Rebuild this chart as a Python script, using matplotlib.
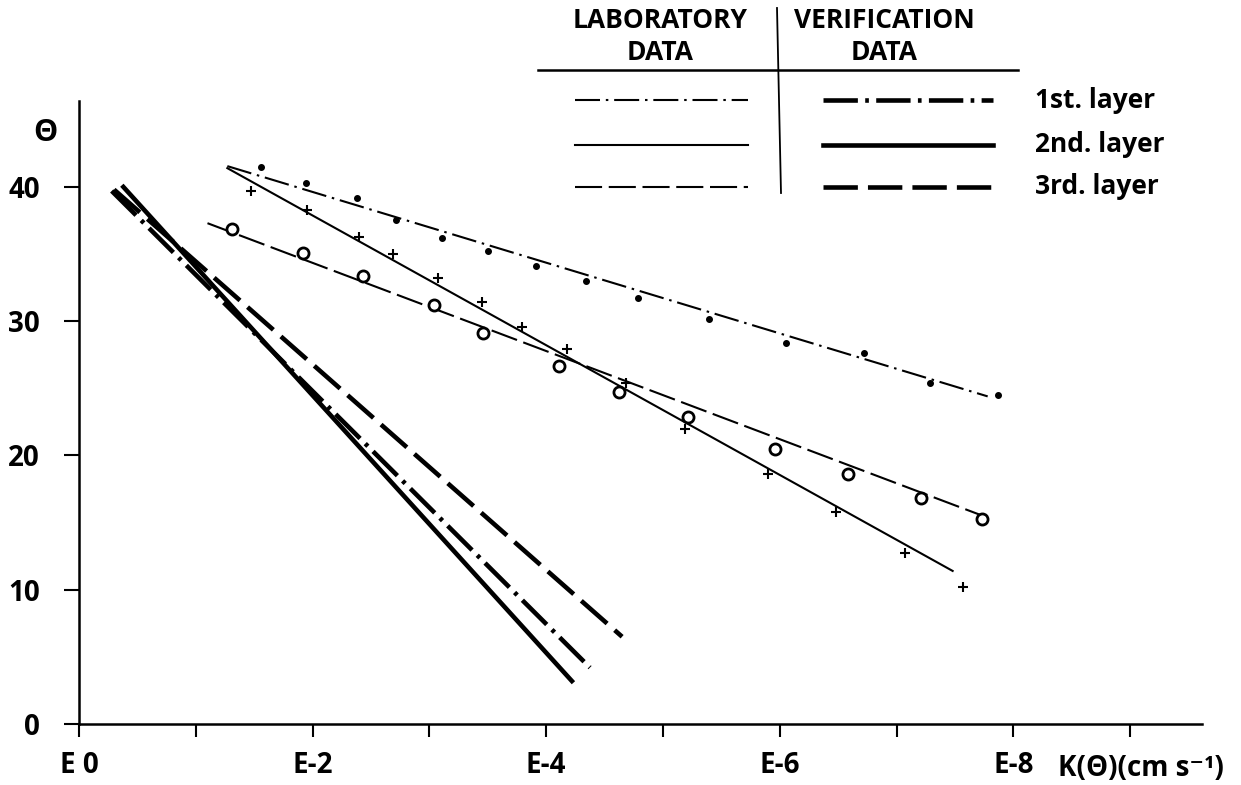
import matplotlib.pyplot as plt

plt.rcParams['font.family'] = ['Open Sans', 'DejaVu Sans']
plt.rcParams['font.weight'] = 'bold'

# x = -log10(K), so 2 means E-2
# laboratory data points
x_dots = [1.56, 1.94, 2.38, 2.71, 3.11, 3.50, 3.91, 4.34, 4.79, 5.39, 6.05, 6.72, 7.29, 7.87]
y_dots = [41.5, 40.3, 39.2, 37.5, 36.2, 35.2, 34.1, 33.0, 31.7, 30.2, 28.4, 27.6, 25.4, 24.5]
x_cross = [1.47, 1.95, 2.40, 2.69, 3.07, 3.45, 3.79, 4.18, 4.68, 5.19, 5.90, 6.48, 7.07, 7.57]
y_cross = [39.7, 38.3, 36.3, 35.0, 33.2, 31.4, 29.6, 27.9, 25.4, 22.0, 18.6, 15.8, 12.7, 10.2]
x_circ = [1.31, 1.92, 2.43, 3.04, 3.46, 4.11, 4.62, 5.21, 5.96, 6.58, 7.21, 7.73]
y_circ = [36.9, 35.1, 33.4, 31.2, 29.1, 26.7, 24.7, 22.9, 20.5, 18.6, 16.8, 15.3]

# fitted lines (start, end)
lab1_x, lab1_y = [1.27, 7.78], [41.55, 24.4]
lab2_x, lab2_y = [1.27, 7.48], [41.4, 11.4]
lab3_x, lab3_y = [1.10, 7.77], [37.3, 15.4]
ver1_x, ver1_y = [0.28, 4.375], [39.7, 4.2]
ver2_x, ver2_y = [0.38, 4.22], [40.0, 3.2]
ver3_x, ver3_y = [0.30, 4.65], [39.8, 6.5]

xtick_pos = [0, 2, 4, 6, 8]
xtick_labels = ['E 0', 'E-2', 'E-4', 'E-6', 'E-8']
ytick_pos = [0, 10, 20, 30, 40]

W, H = 1241, 785
fig = plt.figure(figsize=(W / 100, H / 100), dpi=100)
ax = fig.add_axes([79 / W, 61 / H, 1123 / W, 623 / H])

thin = 1.5
thick = 3.3
dd_thin = [12, 2.8, 1.2, 2.8]
dash_thin = [13, 3.2]
dd_thick = [7.5, 1.6, 0.8, 1.6]
dash_thick = [7.5, 2.2]

ax.plot(lab1_x, lab1_y, color='black', lw=thin, dashes=dd_thin)
ax.plot(lab2_x, lab2_y, color='black', lw=thin)
ax.plot(lab3_x, lab3_y, color='black', lw=thin, dashes=dash_thin)
ax.plot(ver1_x, ver1_y, color='black', lw=thick, dashes=dd_thick)
ax.plot(ver2_x, ver2_y, color='black', lw=thick)
ax.plot(ver3_x, ver3_y, color='black', lw=thick, dashes=dash_thick)

ax.plot(x_dots, y_dots, 'o', color='black', ms=4)
ax.plot(x_cross, y_cross, '+', color='black', ms=7, mew=1.5)
ax.plot(x_circ, y_circ, 'o', mfc='white', mec='black', ms=8, mew=2)

ax.set_xlim(0, 9.615)
ax.set_ylim(0, 46.4)
for s in ['top', 'right']:
    ax.spines[s].set_visible(False)
for s in ['left', 'bottom']:
    ax.spines[s].set_linewidth(1.8)

ax.set_xticks(range(0, 10))
ax.set_xticklabels([xtick_labels[xtick_pos.index(i)] if i in xtick_pos else '' for i in range(10)])
ax.set_yticks(ytick_pos)
ax.set_yticklabels([str(v) for v in ytick_pos])
ax.tick_params(axis='x', length=9.5, width=1.5, pad=10, labelsize=20)
ax.tick_params(axis='y', length=11, width=1.5, pad=17, labelsize=20)

fig.text(45 / W, 1 - 133 / H, 'Θ', fontsize=22, ha='center', va='center')
fig.text(1141 / W, 1 - 768 / H, 'K(Θ)(cm s⁻¹)', fontsize=20, ha='center', va='center')

# legend table
fig.text(660 / W, 1 - 20 / H, 'LABORATORY', fontsize=19, ha='center', va='center')
fig.text(660 / W, 1 - 52 / H, 'DATA', fontsize=19, ha='center', va='center')
fig.text(884 / W, 1 - 20 / H, 'VERIFICATION', fontsize=19, ha='center', va='center')
fig.text(884 / W, 1 - 52 / H, 'DATA', fontsize=19, ha='center', va='center')
fig.add_artist(plt.Line2D([538 / W, 1018 / W], [1 - 70 / H, 1 - 70 / H], color='black', lw=1.8))
fig.add_artist(plt.Line2D([777 / W, 781 / W], [1 - 8 / H, 1 - 193 / H], color='black', lw=1.3))

rows = [(100, '1st. layer', dd_thin, dd_thick),
        (145, '2nd. layer', None, None),
        (187, '3rd. layer', dash_thin, dash_thick)]
for yy, lab, d1, d2 in rows:
    yf = 1 - yy / H
    l1 = plt.Line2D([575 / W, 748 / W], [yf, yf], color='black', lw=thin)
    l2 = plt.Line2D([823 / W, 993 / W], [yf, yf], color='black', lw=thick)
    if d1:
        l1.set_dashes(d1)
        l2.set_dashes(d2)
    fig.add_artist(l1)
    fig.add_artist(l2)
    fig.text(1035 / W, yf, lab, fontsize=19, ha='left', va='center')

fig.savefig('out.png', dpi=100)
